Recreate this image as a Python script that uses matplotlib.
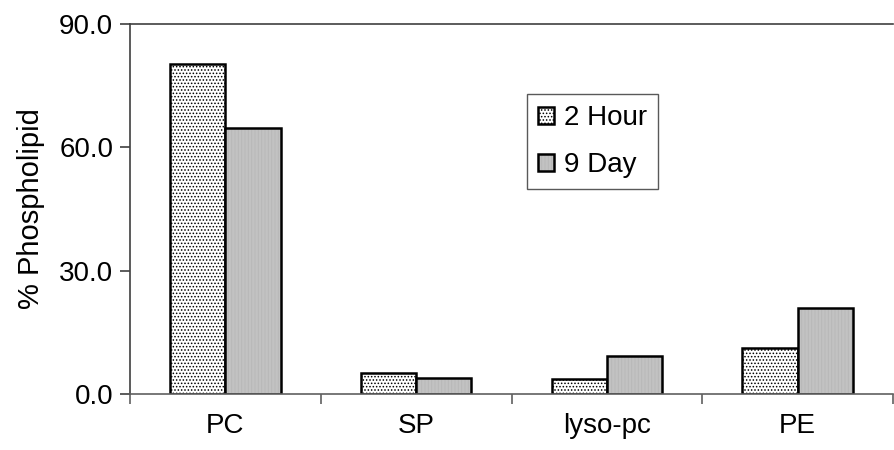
import matplotlib.pyplot as plt
import numpy as np

plt.rcParams['font.family'] = ['Liberation Sans', 'DejaVu Sans']
plt.rcParams['hatch.linewidth'] = 0.7

categorias = ['PC', 'SP', 'lyso-pc', 'PE']
duas_horas = [80.2, 5.1, 3.6, 11.2]
nove_dias = [64.8, 4.0, 9.3, 21.0]

fig = plt.figure(figsize=(8.95, 4.5), dpi=100)
ax = fig.add_axes([130 / 895, 56 / 450, 763 / 895, 370 / 450])

x = np.arange(len(categorias))
w = 0.29

plt.rcParams['hatch.color'] = '#b4b4b4'
b1 = ax.bar(x - w / 2, duas_horas, w, facecolor='white', edgecolor='black',
            linewidth=1.8, hatch='.....', label='2 Hour')
b2 = ax.bar(x + w / 2, nove_dias, w, facecolor='#c2c2c2', edgecolor='black',
            linewidth=1.8, hatch='|||||', label='9 Day')
for b in b2:
    b._hatch_color = (0.72, 0.72, 0.72, 1.0)

ax.set_xlim(-0.5, 3.5)
ax.set_ylim(0, 90)
ax.set_yticks([0, 30, 60, 90])
ax.set_yticklabels(['0.0', '30.0', '60.0', '90.0'])
ax.set_xticks(x)
ax.set_xticklabels(categorias)
ax.set_xticks(np.arange(-0.5, 4, 1), minor=True)
ax.tick_params(axis='x', which='major', length=0, pad=14, labelsize=20)
ax.tick_params(axis='x', which='minor', length=7, width=1.2, color='#606060')
ax.tick_params(axis='y', length=7, width=1.2, color='#404040', labelsize=20, pad=5)

ax.spines['right'].set_visible(False)
ax.spines['top'].set_color('#404040')
ax.spines['left'].set_color('#404040')
ax.spines['bottom'].set_color('#606060')
for s in ['top', 'left', 'bottom']:
    ax.spines[s].set_linewidth(1.2)

ax.set_ylabel('% Phospholipid', fontsize=21, labelpad=10)

leg = ax.legend(loc='upper left', bbox_to_anchor=(397 / 763, 300 / 370), fontsize=20,
                frameon=True, fancybox=False, handlelength=0.57, handleheight=0.57,
                handletextpad=0.35, labelspacing=0.75, borderpad=0.4,
                borderaxespad=0)
leg.get_frame().set_edgecolor('#303030')
leg.get_frame().set_linewidth(1.0)

fig.savefig('out.png', dpi=100)
